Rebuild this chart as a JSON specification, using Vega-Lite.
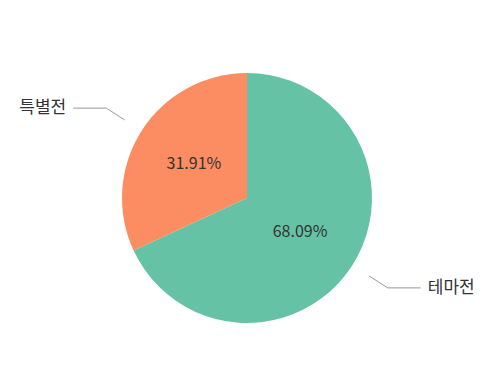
{
  "$schema": "https://vega.github.io/schema/vega-lite/v6.json",
  "width": 500,
  "height": 373,
  "autosize": {"type": "none"},
  "padding": 0,
  "background": "white",
  "config": {"view": {"stroke": null}, "font": "Noto Sans CJK KR"},
  "data": {"values": [
    {"category": "테마전", "value": 68.09},
    {"category": "특별전", "value": 31.91}
  ]},
  "transform": [
    {"window": [{"op": "sum", "field": "value", "as": "cum"}], "sort": [{"field": "category", "order": "ascending"}], "frame": [null, 0]},
    {"joinaggregate": [{"op": "sum", "field": "value", "as": "total"}]},
    {"calculate": "(datum.cum - datum.value/2)/datum.total*2*PI", "as": "mid"},
    {"calculate": "sin(datum.mid)", "as": "sx"},
    {"calculate": "cos(datum.mid)", "as": "cy"},
    {"calculate": "datum.sx > 0 ? 1 : -1", "as": "side"},
    {"calculate": "63*datum.sx", "as": "tx"},
    {"calculate": "63*datum.cy", "as": "ty"},
    {"calculate": "145*datum.sx", "as": "l1x"},
    {"calculate": "145*datum.cy", "as": "l1y"},
    {"calculate": "167*datum.sx", "as": "l2x"},
    {"calculate": "167*datum.cy", "as": "l2y"},
    {"calculate": "datum.l2x + 33*datum.side", "as": "l3x"},
    {"calculate": "datum.l3x + 7*datum.side", "as": "labx"},
    {"calculate": "format(datum.value, '.2f') + '%'", "as": "pct"}
  ],
  "layer": [
    {
      "mark": {"type": "arc", "outerRadius": 125},
      "encoding": {
        "x": {"datum": 0, "type": "quantitative", "scale": {"domain": [-247, 253], "nice": false, "zero": false}, "axis": null},
        "y": {"datum": 0, "type": "quantitative", "scale": {"domain": [-175, 198], "nice": false, "zero": false}, "axis": null},
        "theta": {"field": "value", "type": "quantitative", "stack": true},
        "color": {"field": "category", "type": "nominal", "scale": {"domain": ["테마전", "특별전"], "range": ["#66c2a5", "#fc8d62"]}, "legend": null}
      }
    },
    {
      "mark": {"type": "text", "fontSize": 16, "color": "#333333", "baseline": "middle", "align": "center"},
      "encoding": {
        "x": {"field": "tx", "type": "quantitative"},
        "y": {"field": "ty", "type": "quantitative"},
        "text": {"field": "pct"}
      }
    },
    {
      "mark": {"type": "rule", "color": "#999999", "strokeWidth": 1},
      "encoding": {
        "x": {"field": "l1x", "type": "quantitative"},
        "y": {"field": "l1y", "type": "quantitative"},
        "x2": {"field": "l2x"},
        "y2": {"field": "l2y"}
      }
    },
    {
      "mark": {"type": "rule", "color": "#999999", "strokeWidth": 1},
      "encoding": {
        "x": {"field": "l2x", "type": "quantitative"},
        "y": {"field": "l2y", "type": "quantitative"},
        "x2": {"field": "l3x"},
        "y2": {"field": "l2y"}
      }
    },
    {
      "mark": {"type": "text", "fontSize": 17, "color": "#333333", "baseline": "middle", "align": {"expr": "datum.side > 0 ? 'left' : 'right'"}},
      "encoding": {
        "x": {"field": "labx", "type": "quantitative"},
        "y": {"field": "l2y", "type": "quantitative"},
        "text": {"field": "category"}
      }
    }
  ]
}
